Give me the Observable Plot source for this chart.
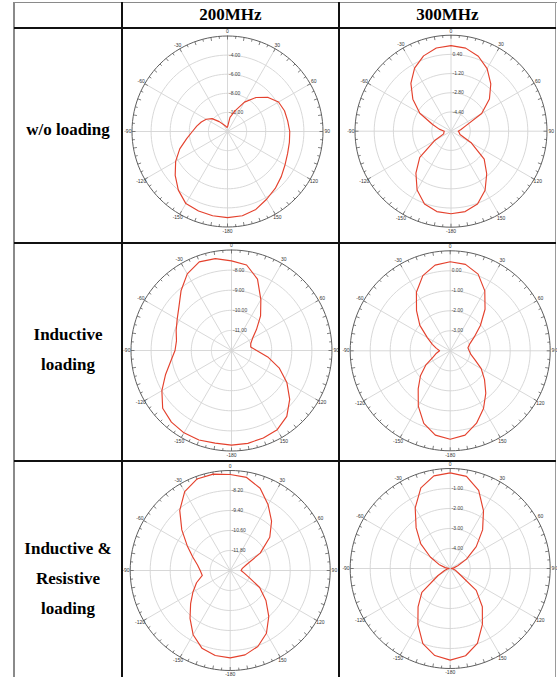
<!DOCTYPE html>
<html><head><meta charset="utf-8">
<script src="https://cdn.jsdelivr.net/npm/d3@7"></script>
<script src="https://cdn.jsdelivr.net/npm/@observablehq/plot@0.6"></script>
<style>
body{margin:0;background:#fff;}
#wrap{position:relative;width:557px;height:677px;overflow:hidden;background:#fff;font-family:"Liberation Serif","Times New Roman",serif;}
.ln{position:absolute;z-index:3}
.txt{position:absolute;font-weight:bold;font-size:17px;text-align:center;color:#000;line-height:30px;}
.cell{position:absolute;z-index:1}
.cell svg{overflow:visible}
</style></head><body><div id="wrap"></div>
<script>
// ---------- data ----------
const columns = ["200MHz", "300MHz"];
const rowLabels = [["w/o loading"], ["Inductive", "loading"], ["Inductive &", "Resistive", "loading"]];
const angles = [0,10,20,30,40,50,60,70,80,90,100,110,120,130,140,150,160,170,180,190,200,210,220,230,240,250,260,270,280,290,300,310,320,330,340,350];
const angleLabels = [0,30,60,90,120,150,-180,-150,-120,-90,-60,-30];

// gain (dB) read every 10 degrees, clockwise from top
const woLoad200 = [-11.55,-10.5,-9.7,-8.45,-7.35,-6.45,-5.83,-5.65,-5.6,-5.48,-5.42,-5.3,-5.04,-4.65,-4.22,-3.81,-3.32,-3.04,-2.98,-3.04,-3.14,-3.28,-3.99,-4.85,-5.73,-6.68,-7.66,-8.32,-8.73,-9.08,-9.43,-9.9,-10.65,-11.15,-11.38,-11.55];
const woLoad300 = [1.13,1.03,0.65,0.02,-0.84,-1.82,-3.05,-4.7,-5.15,-5.4,-5.3,-5.2,-4.03,-2.39,-1.37,-0.32,0.46,0.8,0.88,0.8,0.46,-0.35,-1.45,-2.6,-4.4,-5.35,-5.4,-5.44,-5.0,-4.37,-3.0,-1.85,-0.8,0.07,0.68,1.04];
const ind200 = [-7.54,-7.68,-8.22,-9.08,-9.75,-10.38,-10.79,-10.98,-11.03,-10.75,-10.17,-9.48,-8.82,-8.22,-7.72,-7.45,-7.37,-7.31,-7.29,-7.32,-7.26,-7.27,-7.35,-7.53,-8.0,-8.51,-8.93,-9.19,-9.22,-9.07,-8.88,-8.59,-8.1,-7.6,-7.31,-7.36];
const ind300 = [0.45,0.39,0.08,-0.54,-1.29,-2.03,-2.61,-2.95,-3.1,-3.05,-2.95,-2.68,-2.21,-1.76,-1.23,-0.67,-0.15,0.28,0.42,0.28,-0.14,-0.81,-1.51,-2.06,-2.6,-3.1,-3.3,-3.47,-3.3,-3.05,-2.68,-2.02,-1.38,-0.62,0.0,0.35];
const indRes200 = [-7.24,-7.33,-7.75,-8.45,-9.14,-9.9,-10.92,-11.95,-12.26,-12.35,-12.16,-11.8,-10.96,-10.2,-9.4,-8.65,-8.15,-7.86,-7.76,-7.82,-8.04,-8.55,-9.25,-9.9,-10.42,-10.85,-11.3,-11.2,-11.0,-10.6,-10.02,-9.21,-8.29,-7.54,-7.16,-7.13];
const indRes300 = [-0.22,-0.32,-0.84,-1.67,-2.48,-3.3,-4.06,-4.6,-4.82,-4.95,-4.85,-4.7,-4.5,-3.3,-2.5,-1.78,-1.02,-0.57,-0.42,-0.58,-1.0,-1.77,-2.5,-3.15,-4.3,-4.7,-4.85,-4.95,-4.75,-4.4,-3.85,-3.08,-2.35,-1.5,-0.71,-0.3];

// radial axes (center value, outer value, labelled rings)
const scale1 = {rMin: -12, rMax: -2, rings: [-10, -8, -6, -4]};
const scale2 = {rMin: -6, rMax: 2, rings: [-4.4, -2.8, -1.2, 0.4]};
const scale3 = {rMin: -12, rMax: -7, rings: [-11, -10, -9, -8]};
const scale4 = {rMin: -4, rMax: 1, rings: [-3, -2, -1, 0]};
const scale5 = {rMin: -13, rMax: -7, rings: [-11.8, -10.6, -9.4, -8.2]};
const scale6 = {rMin: -5, rMax: 0, rings: [-4, -3, -2, -1]};

// ---------- layout ----------
const wrap = document.getElementById("wrap");
function line(x, y, w, h, color) {
  const d = document.createElement("div");
  d.className = "ln";
  Object.assign(d.style, {left: x + "px", top: y + "px", width: w + "px", height: h + "px", background: color});
  wrap.appendChild(d);
}
function label(lines, cx, cy, w) {
  const d = document.createElement("div");
  d.className = "txt";
  d.innerHTML = lines.join("<br>");
  Object.assign(d.style, {left: (cx - w / 2) + "px", top: (cy - lines.length * 15) + "px", width: w + "px"});
  wrap.appendChild(d);
}

const rad = a => a * Math.PI / 180;
const spokeAngles = [0, 30, 60, 90, 120, 150, 180, 210, 240, 270, 300, 330];
const tickAngles = d3.range(0, 360, 5);
const circle = d3.range(0, 361, 3);

function polar(values, sc, cx, cy, R) {
  const W = 217, H = 217;
  const rho = v => (v - sc.rMin) / (sc.rMax - sc.rMin);
  const px = (a, r) => r * Math.sin(rad(a));
  const py = (a, r) => r * Math.cos(rad(a));
  const pattern = angles.map((a, i) => ({a, v: values[i]}));
  const ringPts = sc.rings.flatMap(v => circle.map(a => ({a, r: rho(v)})));
  const outer = circle.map(a => ({a, r: 1}));
  return Plot.plot({
    width: W, height: H,
    marginLeft: cx - R, marginRight: W - cx - R, marginTop: cy - R, marginBottom: H - cy - R,
    x: {domain: [-1, 1], axis: null},
    y: {domain: [-1, 1], axis: null},
    style: {background: "transparent", fontFamily: "'Liberation Sans', Arial, sans-serif", overflow: "visible"},
    marks: [
      Plot.line(ringPts, {x: d => px(d.a, d.r), y: d => py(d.a, d.r), z: "r", stroke: "#d4d4d4", strokeWidth: 0.9}),
      Plot.link(spokeAngles, {x1: () => 0, y1: () => 0, x2: a => px(a, 1), y2: a => py(a, 1), stroke: "#d4d4d4", strokeWidth: 0.9}),
      Plot.line(outer, {x: d => px(d.a, d.r), y: d => py(d.a, d.r), stroke: "#5e5e5e", strokeWidth: 1}),
      Plot.link(tickAngles, {x1: a => px(a, 1), y1: a => py(a, 1), x2: a => px(a, 1 - (a % 10 === 0 ? 3.5 : 2.5) / R), y2: a => py(a, 1 - (a % 10 === 0 ? 3.5 : 2.5) / R), stroke: "#5e5e5e", strokeWidth: 0.8}),
      Plot.text(angleLabels, {x: a => px(a, 1 + 4.2 / R), y: a => py(a, 1 + 4.2 / R), text: d => String(d), fontSize: 5, fill: "#333"}),
      Plot.text(sc.rings, {x: () => 0, y: v => rho(v), text: v => v.toFixed(2), textAnchor: "start", dx: 1.5, fontSize: 5, fill: "#444"}),
      Plot.line(pattern, {x: d => px(d.a, rho(d.v)), y: d => py(d.a, rho(d.v)), curve: "linear-closed", stroke: "#e4412d", strokeWidth: 1.15})
    ]
  });
}

function place(svg, x, y) {
  const d = document.createElement("div");
  d.className = "cell";
  Object.assign(d.style, {left: x + "px", top: y + "px"});
  d.appendChild(svg);
  wrap.appendChild(d);
}

const colX = [122, 339];
const rowY = [28, 243, 461];
place(polar(woLoad200, scale1, 105, 103, 95.5), colX[0], rowY[0]);
place(polar(woLoad300, scale2, 111.5, 102.7, 96), colX[1], rowY[0]);
place(polar(ind200, scale3, 109, 107, 100.5), colX[0], rowY[1]);
place(polar(ind300, scale4, 110.7, 107.3, 100), colX[1], rowY[1]);
place(polar(indRes200, scale5, 107.7, 109, 100), colX[0], rowY[2]);
place(polar(indRes300, scale6, 110.7, 107, 100), colX[1], rowY[2]);

// table rules
line(14, 2, 543, 1, "#8a8a8a");        // top
line(13, 2, 2, 675, "#8a8a8a");        // left
line(555, 2, 1, 675, "#9a9a9a");       // right
line(121, 2, 2, 675, "#111");          // column dividers
line(338, 2, 2, 675, "#111");
line(14, 27, 542, 2, "#111");          // row dividers
line(14, 242, 542, 2, "#111");
line(14, 460, 542, 2, "#111");

// header & row labels
label([columns[0]], 230.5, 15, 200);
label([columns[1]], 447.5, 15, 200);
label(rowLabels[0], 68, 130, 108);
label(rowLabels[1], 68, 350, 108);
label(rowLabels[2], 68, 579, 108);
</script></body></html>
